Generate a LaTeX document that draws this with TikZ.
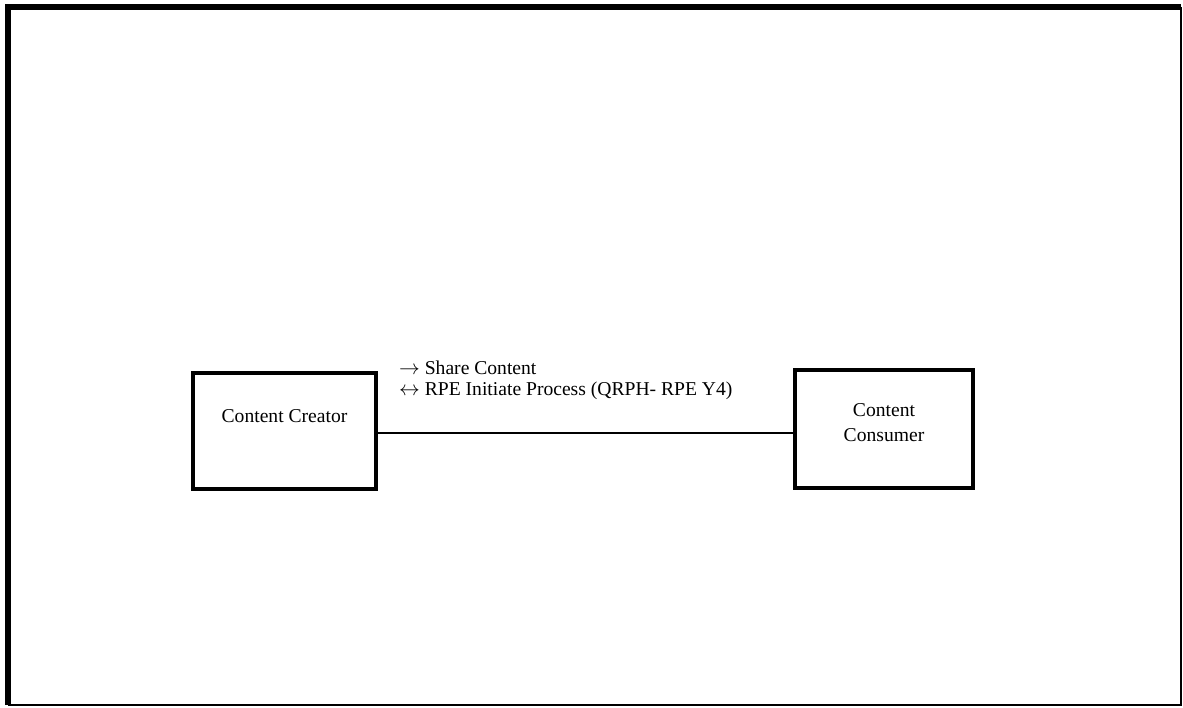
\documentclass[tikz,border=0pt]{standalone}
\usepackage{fontspec}
\setmainfont{Liberation Serif}
\begin{document}
\begin{tikzpicture}[x=1pt, y=-1pt,
  box/.style={draw, line width=4pt, inner sep=0pt},
  txt/.style={font=\fontsize{19.6}{21}\selectfont, inner sep=0pt, align=center},
  link/.style={line width=2pt}]
	\useasboundingbox (0,0) rectangle (1183,707);

	% frame
	\draw[line width=6pt] (7.5,705) -- (7.5,7) -- (1181,7);
	\draw[line width=2pt] (1181,7) -- (1181,705) -- (7.5,705);

	\node[box, minimum width=183pt, minimum height=116pt] (creator) at (284.5,431) {};
	\node[box, minimum width=178pt, minimum height=118pt] (consumer) at (884,429) {};

	\node[txt, anchor=base] (creatortxt) at (creator.center) [yshift=9pt] {Content Creator};
	\node[txt, font=\fontsize{19.6}{25}\selectfont] (consumertxt) at (consumer.center) [yshift=6pt] {Content\\Consumer};

	\coordinate (mid) at (0,433);
	\draw[link] (creator.east |- mid) -- (consumer.west |- mid);

	\node[txt, align=left, anchor=north west] (msgs) at (399,361) {$\rightarrow$ Share Content\\$\leftrightarrow$ RPE Initiate Process (QRPH- RPE Y4)};
\end{tikzpicture}
\end{document}
